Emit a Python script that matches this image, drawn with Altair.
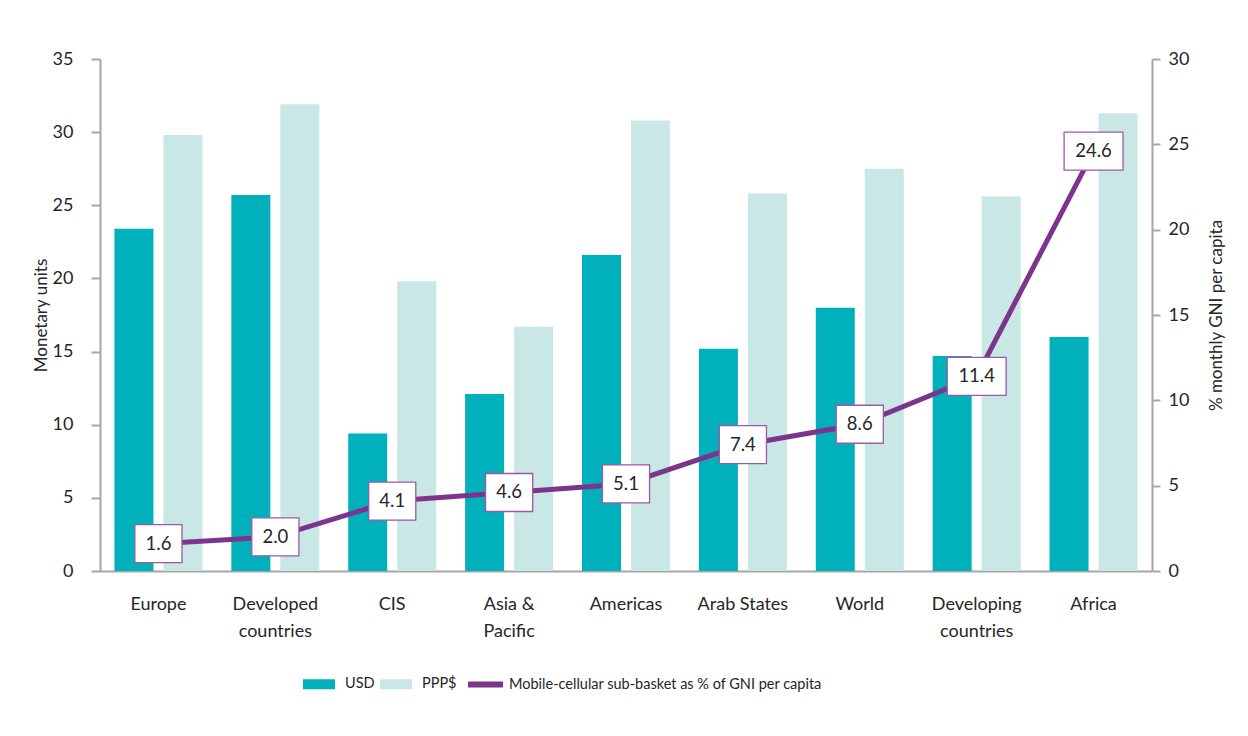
import altair as alt
import pandas as pd

# ---- data ----
categories = ["Europe", "Developed\ncountries", "CIS", "Asia &\nPacific", "Americas",
              "Arab States", "World", "Developing\ncountries", "Africa"]
usd = [23.4, 25.7, 9.4, 12.1, 21.6, 15.2, 18.0, 14.7, 16.0]
ppp = [29.8, 31.9, 19.8, 16.7, 30.8, 25.8, 27.5, 25.6, 31.3]
gni_pct = [1.6, 2.0, 4.1, 4.6, 5.1, 7.4, 8.6, 11.4, 24.6]
bar_series = ["USD", "PPP$"]
line_series = "Mobile-cellular sub-basket as % of GNI per capita"
left_ticks = [0, 5, 10, 15, 20, 25, 30, 35]
right_ticks = [0, 5, 10, 15, 20, 25, 30]

# ---- style ----
TEAL = "#00b0ba"
LIGHT = "#c9e7e5"
PURPLE = "#7d348c"
BOX_EDGE = "#9a5aa8"
GREY = "#a6a6a6"
TXT = "#262626"
FONT = "Lato"

bars_df = pd.DataFrame(
    [{"category": c, "series": s, "value": v}
     for c, u, p in zip(categories, usd, ppp)
     for s, v in zip(bar_series, [u, p])]
)
line_df = pd.DataFrame({
    "category": categories,
    "pct": gni_pct,
    "label": [f"{v:.1f}" for v in gni_pct],
    "series": [line_series] * len(categories),
})
line_df["box"] = ["l" if len(t) > 3 else "s" for t in line_df["label"]]

x_enc = alt.X(
    "category:N", sort=categories,
    scale=alt.Scale(paddingInner=0, paddingOuter=0),
    axis=alt.Axis(title=None, ticks=False, domainColor=GREY, domainWidth=2,
                  labelFontSize=18, labelColor=TXT, labelPadding=24,
                  labelLineHeight=27, labelAngle=0,
                  labelExpr="split(datum.label, '\\n')"),
)

bars = alt.Chart(bars_df).mark_bar().encode(
    x=x_enc,
    xOffset=alt.XOffset("series:N", sort=bar_series,
                        scale=alt.Scale(paddingInner=0.204, paddingOuter=0.295)),
    y=alt.Y("value:Q",
            scale=alt.Scale(domain=[0, 35], nice=False),
            axis=alt.Axis(values=left_ticks, title="Monetary units", grid=False,
                          domainColor=GREY, domainWidth=2, tickColor=GREY, tickWidth=2,
                          tickSize=9, labelFontSize=18, labelColor=TXT, labelPadding=18,
                          titleFontSize=17, titleFontWeight="normal", titleColor=TXT,
                          titlePadding=2)),
    color=alt.Color("series:N",
                    scale=alt.Scale(domain=bar_series, range=[TEAL, LIGHT]),
                    legend=alt.Legend(title=None, orient="none", legendX=203, legendY=615,
                                      direction="horizontal",
                                      symbolType="M-1,-0.5H2.2V0.5H-1Z", symbolSize=400,
                                      symbolStrokeWidth=0, labelOffset=22,
                                      columnPadding=5, labelFontSize=14.5,
                                      labelColor=TXT, labelLimit=0)),
)

def y_right():
    ax = alt.Axis(orient="right", values=right_ticks,
                  title="% monthly GNI per capita", grid=False,
                  domainColor=GREY, domainWidth=2, tickColor=GREY, tickWidth=2,
                  tickSize=8, labelFontSize=18, labelColor=TXT, labelPadding=8,
                  titleFontSize=17, titleFontWeight="normal", titleColor=TXT,
                  titleAngle=270, titleBaseline="bottom", titlePadding=37)
    return alt.Y("pct:Q", scale=alt.Scale(domain=[0, 30], nice=False), axis=ax)

line = alt.Chart(line_df).mark_line(strokeWidth=5).encode(
    x=alt.X("category:N", sort=categories),
    y=y_right(),
    stroke=alt.Stroke("series:N",
                      scale=alt.Scale(domain=[line_series], range=[PURPLE]),
                      legend=alt.Legend(title=None, orient="none", legendX=365, legendY=605,
                                        symbolType="stroke", symbolSize=1225,
                                        symbolStrokeWidth=6, labelOffset=3,
                                        labelFontSize=14.5, labelColor=TXT, labelLimit=0)),
)

boxes = alt.Chart(line_df).mark_point(
    filled=True, fill="white", stroke=BOX_EDGE, strokeWidth=1.3, opacity=1, size=1444
).encode(
    x=alt.X("category:N", sort=categories),
    y=y_right(),
    shape=alt.Shape("box:N",
                    scale=alt.Scale(domain=["s", "l"],
                                    range=["M-1.24,-1H1.24V1H-1.24Z",
                                           "M-1.55,-1H1.55V1H-1.55Z"]),
                    legend=None),
)

texts = alt.Chart(line_df).mark_text(
    fontSize=18.5, color=TXT, align="center", baseline="middle"
).encode(
    x=alt.X("category:N", sort=categories),
    y=y_right(),
    text=alt.Text("label:N"),
)

right = alt.layer(line, boxes, texts)

chart = alt.layer(bars, right).resolve_scale(y="independent").properties(
    width=1052, height=512,
    autosize=alt.AutoSizeParams(type="none"),
    padding={"left": 92, "top": 51, "right": 88, "bottom": 140},
    background="white",
).configure(font=FONT).configure_view(stroke=None).configure_axis(
    titleFontSize=17, titleFontWeight="normal"
)

chart.save("out.html", embed_options={"renderer": "svg", "actions": False})
